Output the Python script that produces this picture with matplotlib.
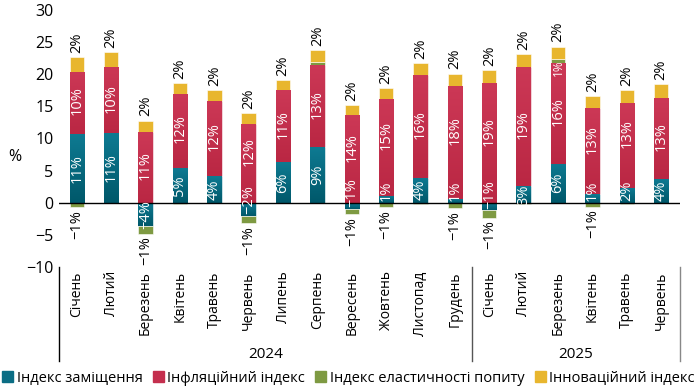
import matplotlib
matplotlib.use("Agg")
import matplotlib.pyplot as plt
import numpy as np
from matplotlib.colors import LinearSegmentedColormap
from matplotlib.patches import Rectangle
import matplotlib.transforms as mtransforms

plt.rcParams['font.family'] = ['Open Sans', 'DejaVu Sans']

months = ["Січень", "Лютий", "Березень", "Квітень", "Травень", "Червень",
          "Липень", "Серпень", "Вересень", "Жовтень", "Листопад", "Грудень",
          "Січень", "Лютий", "Березень", "Квітень", "Травень", "Червень"]
years = ["2024", "2025"]
year_sizes = [12, 6]

replacement = [10.7, 10.8, -3.6, 5.4, 4.1, -2.0, 6.3, 8.6, -0.9, 1.1, 3.9, 0.6,
               -1.2, 2.6, 6.1, 1.4, 2.3, 3.7]
inflation = [9.7, 10.3, 11.0, 11.6, 11.8, 12.2, 11.2, 12.9, 13.6, 15.1, 16.0, 17.6,
             18.6, 18.6, 15.6, 13.3, 13.2, 12.6]
elasticity = [-0.7, -0.1, -1.2, -0.2, -0.1, -1.2, -0.1, 0.4, -0.9, -0.7, -0.2, -0.8,
              -1.1, -0.15, 0.6, -0.6, -0.2, -0.1]
innovation = [2.3, 2.3, 1.8, 1.6, 1.6, 1.7, 1.6, 1.8, 1.6, 1.6, 1.9, 1.9,
              2.0, 2.0, 2.0, 1.9, 2.0, 2.2]

series_names = ["Індекс заміщення", "Інфляційний індекс",
                "Індекс еластичності попиту", "Інноваційний індекс"]
colors = ["#0b6d84", "#c42f4e", "#7e9a42", "#e8b62e"]
grad = {0: ("#0e7a92", "#00586a"), 1: ("#cc3856", "#ba2743")}

def fmt(v):
    r = int(round(v))
    s = f"{abs(r)}%"
    return ("\u2212" + s) if r < 0 else s

fig = plt.figure(figsize=(6.97, 3.90), dpi=100)
ax = fig.add_axes([59/697, 1-267/390, (680-59)/697, (267-10)/390])

x = np.arange(len(months))
w = 0.42
data = [replacement, inflation, elasticity, innovation]
pos_base = np.zeros(len(x))
neg_base = np.zeros(len(x))
seg = {}
for si, vals in enumerate(data):
    vals = np.array(vals, dtype=float)
    bottoms = np.where(vals >= 0, pos_base, neg_base)
    bars = ax.bar(x, vals, w, bottom=bottoms, color=colors[si],
                  edgecolor="white", linewidth=0.4, zorder=2)
    if si in grad:
        cmap = LinearSegmentedColormap.from_list("g", [grad[si][1], grad[si][0]])
        g = np.linspace(0, 1, 64).reshape(-1, 1)
        for b in bars:
            x0, y0 = b.get_x(), b.get_y()
            h = b.get_height()
            lo, hi = min(y0, y0 + h), max(y0, y0 + h)
            im = ax.imshow(g, cmap=cmap, origin="lower", aspect="auto",
                           extent=[x0, x0 + b.get_width(), lo, hi], zorder=2.1)
            im.set_clip_path(b)
    seg[si] = [(bottoms[i], bottoms[i] + vals[i]) for i in range(len(x))]
    pos_base = np.where(vals >= 0, pos_base + vals, pos_base)
    neg_base = np.where(vals < 0, neg_base + vals, neg_base)

lfs = 10.5
for i in range(len(x)):
    b0, b1 = seg[0][i]
    v = replacement[i]
    small_blue = abs(v) < 2.5
    if small_blue:
        ax.text(x[i], min(b0, b1) + 0.3, fmt(v), rotation=90, ha="center", va="bottom",
                color="white", fontsize=lfs, zorder=4)
    else:
        ax.text(x[i], (b0 + b1) / 2, fmt(v), rotation=90, ha="center", va="center",
                color="white", fontsize=lfs, zorder=4)
    r0, r1 = seg[1][i]
    yc = (r0 + r1) / 2 + (1.8 if small_blue else 0.3)
    ax.text(x[i], yc, fmt(inflation[i]), rotation=90, ha="center", va="center",
            color="white", fontsize=lfs, zorder=4)
    g0, g1 = seg[2][i]
    ev = elasticity[i]
    if int(round(ev)) != 0:
        if ev < 0:
            ax.annotate(fmt(ev), (x[i], neg_base[i]), xytext=(0, -2),
                        textcoords="offset points", rotation=90, ha="center", va="top",
                        color="black", fontsize=lfs, zorder=4)
        else:
            ax.annotate(fmt(ev), (x[i], g1), xytext=(0, 0),
                        textcoords="offset points", rotation=90, ha="center", va="top",
                        color="white", fontsize=lfs - 2, zorder=4)
    y0, y1 = seg[3][i]
    ax.annotate(fmt(innovation[i]), (x[i], y1), xytext=(0, 3),
                textcoords="offset points", rotation=90, ha="center", va="bottom",
                color="black", fontsize=lfs, zorder=4)

ax.axhline(0, color="black", linewidth=1.0, zorder=3)
ax.set_xlim(-0.52, 17.55)
ax.set_ylim(-10, 30)
ax.set_yticks(np.arange(-10, 31, 5))
ax.set_yticklabels([str(t).replace("-", "\u2212") for t in range(-10, 31, 5)], fontsize=11.5)
ax.set_xticks(x)
ax.set_xticklabels(months, rotation=90, fontsize=10, va="top")
ax.tick_params(axis="both", length=0)
ax.tick_params(axis="x", pad=3)
ax.tick_params(axis="y", pad=4)
for sp in ax.spines.values():
    sp.set_visible(False)

trans = mtransforms.blended_transform_factory(ax.transData, ax.transAxes)
ybot = (267 - 361) / 257
sep_x = [-0.52, year_sizes[0] - 0.5, 17.55]
sep_c = ["black", "#555555", "#888888"]
for sx, sc in zip(sep_x, sep_c):
    ax.plot([sx, sx], [0, ybot], transform=trans, color=sc, linewidth=1.0, clip_on=False)
start = 0
for yr, n in zip(years, year_sizes):
    ax.text(start + (n - 1) / 2, (267 - 354) / 257, yr, transform=trans,
            ha="center", va="center", fontsize=11)
    start += n

fig.text(8/697, 1 - 157/390, "%", fontsize=11.5, ha="left", va="center")

handles = [Rectangle((0, 0), 1, 1, color=c) for c in colors]
fig.legend(handles, series_names, loc="lower center", bbox_to_anchor=(0.5, -0.015),
           ncol=4, frameon=False, fontsize=10.5, handlelength=0.75, handleheight=0.75,
           handletextpad=0.25, columnspacing=0.7, borderpad=0.2)

fig.savefig("out.png", dpi=100)
